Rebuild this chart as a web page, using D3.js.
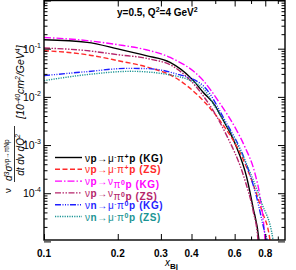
<!DOCTYPE html>
<html>
<head>
<meta charset="utf-8">
<script src="https://cdn.jsdelivr.net/npm/d3@7"></script>
<style>
  body { margin: 0; background: #fff; }
  text { font-family: "Liberation Sans", Arial, sans-serif; }
</style>
</head>
<body>
<div id="chart"></div>
<script>
//////////////////////////////////////////////////////////////////////////////
// data

const xKGpip = [0.1, 0.15, 0.2, 0.261, 0.327, 0.4, 0.446, 0.499, 0.523, 0.602, 0.672, 0.713, 0.754, 0.77];
const yKGpip = [0.153, 0.135, 0.099, 0.0716, 0.052, 0.0239, 0.0125, 0.0066, 0.0043, 0.00108, 2.13e-4, 5.1e-5, 1.06e-5, 3e-6];

const xZSpip = [0.1, 0.15, 0.2, 0.266, 0.339, 0.446, 0.523, 0.661, 0.774, 0.836, 0.85];
const yZSpip = [0.091, 0.075, 0.0565, 0.041, 0.026, 0.0084, 0.0032, 4.16e-4, 4.42e-5, 1.06e-5, 3e-6];

const xKGpi0 = [0.1, 0.15, 0.2, 0.261, 0.327, 0.447, 0.523, 0.612, 0.661, 0.726, 0.761, 0.798, 0.81];
const yKGpi0 = [0.171, 0.147, 0.121, 0.095, 0.066, 0.0217, 0.00726, 0.0020, 9.06e-4, 2.58e-4, 8.6e-5, 1.06e-5, 3e-6];

const xZSpi0 = [0.1, 0.15, 0.2, 0.266, 0.339, 0.446, 0.548, 0.661, 0.713, 0.747, 0.76];
const yZSpi0 = [0.103, 0.091, 0.075, 0.062, 0.042, 0.0106, 0.00185, 1.85e-4, 4.4e-5, 1.06e-5, 3e-6];

const xKGn = [0.1, 0.15, 0.218, 0.266, 0.339, 0.446, 0.548, 0.661, 0.738, 0.798, 0.813, 0.83];
const yKGn = [0.0276, 0.0334, 0.039, 0.0385, 0.031, 0.0171, 0.00323, 4.8e-4, 8.2e-5, 1.48e-5, 1.06e-5, 3e-6];

const xZSn = [0.1, 0.15, 0.2265, 0.339, 0.446, 0.499, 0.661, 0.774, 0.861, 0.88];
const yZSn = [0.0217, 0.029, 0.0339, 0.0276, 0.0149, 0.0062, 4.8e-4, 6.2e-5, 1.06e-5, 3e-6];

const xTickLabels = [0.1, 0.2, 0.3, 0.4, 0.6, 0.8];
const xTicks = [0.1, 0.2, 0.3, 0.4, 0.5, 0.6, 0.7, 0.8, 0.9];
const yTickExps = [-1, -2, -3, -4];

// legend: target, final lepton, pion charge, model
const legendTarget = ["p", "p", "p", "p", "n", "n"];
const legendFinal = ["μ", "μ", "ν", "ν", "μ", "μ"];
const legendFinalSup = ["-", "-", "", "", "-", "-"];
const legendPiSup = ["+", "+", "0", "0", "0", "0"];
const legendModel = ["KG", "ZS", "KG", "ZS", "KG", "ZS"];

//////////////////////////////////////////////////////////////////////////////
// styles

const width = 296;
const height = 270;
const mLeft = 44, mRight = 285, mTop = 0.5, mBottom = 240;

const colors = ["#000000", "#ff2a2a", "#ff00ff", "#b5246b", "#1e1eff", "#1a9494"];
const dashes = ["none", "5,2.5", "7,2,1.5,2", "6,1.5,1.5,1.5,1.5,1.5", "6,1.5,1,1.5,1,1.5,1,1.5", "1.2,1.2"];

const series = [
  d3.zip(xKGpip, yKGpip),
  d3.zip(xZSpip, yZSpip),
  d3.zip(xKGpi0, yKGpi0),
  d3.zip(xZSpi0, yZSpi0),
  d3.zip(xKGn, yKGn),
  d3.zip(xZSn, yZSn)
];

const x = d3.scaleLog().domain([0.1, 0.963]).range([mLeft, mRight]);
const y = d3.scaleLog().domain([1.07e-5, 1]).range([mBottom, mTop]);

const svg = d3.select("#chart").append("svg")
    .attr("width", width)
    .attr("height", height);

svg.append("defs").append("clipPath").attr("id", "clip")
  .append("rect")
    .attr("x", mLeft).attr("y", mTop)
    .attr("width", mRight - mLeft).attr("height", mBottom - mTop);

//////////////////////////////////////////////////////////////////////////////
// curves

const line = d3.line()
    .x(d => x(d[0]))
    .y(d => y(d[1]))
    .curve(d3.curveMonotoneX);

svg.append("g")
    .attr("clip-path", "url(#clip)")
  .selectAll("path")
  .data(series)
  .join("path")
    .attr("fill", "none")
    .attr("stroke", (d, i) => colors[i])
    .attr("stroke-width", 1.4)
    .attr("stroke-dasharray", (d, i) => dashes[i])
    .attr("d", line);

//////////////////////////////////////////////////////////////////////////////
// axes (ticks on all four sides, pointing in)

const yMinor = [];
for (let e = -5; e < 0; e++) {
  for (let k = 1; k < 10; k++) yMinor.push(k * Math.pow(10, e));
}
yMinor.push(1);

const isDecade = d => Math.abs(Math.log10(d) - Math.round(Math.log10(d))) < 1e-6;

const axes = svg.append("g");

axes.append("g").call(d3.axisRight(y).tickValues(yMinor).tickSizeInner(0).tickSizeOuter(0).tickFormat(""))
    .attr("transform", `translate(${mLeft},0)`)
    .call(g => g.select(".domain").remove())
    .call(g => g.selectAll(".tick line")
      .attr("x2", d => isDecade(d) ? 7 : 3.5)
      .attr("stroke-width", 1));

axes.append("g").call(d3.axisLeft(y).tickValues(yMinor).tickSizeInner(0).tickSizeOuter(0).tickFormat(""))
    .attr("transform", `translate(${mRight},0)`)
    .call(g => g.select(".domain").remove())
    .call(g => g.selectAll(".tick line")
      .attr("x2", d => isDecade(d) ? -7 : -3.5)
      .attr("stroke-width", 1));

axes.append("g").call(d3.axisTop(x).tickValues(xTicks).tickSizeInner(0).tickSizeOuter(0).tickFormat(""))
    .attr("transform", `translate(0,${mBottom})`)
    .call(g => g.select(".domain").remove())
    .call(g => g.selectAll(".tick line")
      .attr("y2", d => xTickLabels.includes(d) ? -6 : -3.5)
      .attr("stroke-width", 1));

axes.append("g").call(d3.axisBottom(x).tickValues(xTicks).tickSizeInner(0).tickSizeOuter(0).tickFormat(""))
    .attr("transform", `translate(0,${mTop})`)
    .call(g => g.select(".domain").remove())
    .call(g => g.selectAll(".tick line")
      .attr("y2", d => xTickLabels.includes(d) ? 6 : 3.5)
      .attr("stroke-width", 1));

svg.append("rect")
    .attr("x", mLeft).attr("y", mTop)
    .attr("width", mRight - mLeft).attr("height", mBottom - mTop)
    .attr("fill", "none")
    .attr("stroke", "#000")
    .attr("stroke-width", 1.4);

// x tick labels
svg.append("g")
    .style("font-size", "10px")
    .style("font-weight", "bold")
  .selectAll("text")
  .data(xTickLabels)
  .join("text")
    .attr("x", d => x(d))
    .attr("y", 257)
    .attr("text-anchor", "middle")
    .text(d => d);

// x axis title
const xt = svg.append("text")
    .attr("x", 165)
    .attr("y", 266)
    .style("font-size", "10px");
xt.append("tspan").style("font-style", "italic").text("x");
xt.append("tspan").attr("dy", 3).style("font-size", "8px").style("font-weight", "bold").text("Bj");

// y tick labels
const yl = svg.append("g").style("font-size", "10.5px")
  .selectAll("text")
  .data(yTickExps)
  .join("text")
    .attr("x", 23)
    .attr("y", d => y(Math.pow(10, d)) + 4);
yl.append("tspan").text("10");
yl.append("tspan").attr("dy", -5).style("font-size", "7px").text(d => d);

// y axis title (rotated pieces)
const yTitle = svg.append("g").style("font-style", "italic");

yTitle.append("text")
    .attr("transform", "translate(11,193) rotate(-90)")
    .style("font-size", "9.5px")
    .style("font-style", "normal")
    .text("ν");

const num = yTitle.append("text")
    .attr("transform", "translate(12,181) rotate(-90)")
    .style("font-size", "10px");
num.append("tspan").text("d");
num.append("tspan").attr("dy", -3.5).style("font-size", "7px").text("3");
num.append("tspan").attr("dy", 3.5).text("σ");
num.append("tspan").attr("dy", -3.5).style("font-size", "6.5px").style("font-style", "normal").text("νp→πNp");

yTitle.append("line")
    .attr("x1", 14.5).attr("x2", 14.5)
    .attr("y1", 126).attr("y2", 182)
    .attr("stroke", "#000")
    .attr("stroke-width", 0.8);

const den = yTitle.append("text")
    .attr("transform", "translate(23.5,155) rotate(-90)")
    .attr("text-anchor", "middle")
    .style("font-size", "10px");
den.append("tspan").text("dt dν dQ");
den.append("tspan").attr("dy", -3.5).style("font-size", "7px").text("2");

const unit = yTitle.append("text")
    .attr("transform", "translate(23.5,82) rotate(-90)")
    .attr("text-anchor", "middle")
    .style("font-size", "10.5px");
unit.append("tspan").text("[10");
unit.append("tspan").attr("dy", -3.5).style("font-size", "7px").text("-40");
unit.append("tspan").attr("dy", 3.5).text("cm");
unit.append("tspan").attr("dy", -3.5).style("font-size", "7px").text("2");
unit.append("tspan").attr("dy", 3.5).text("/GeV");
unit.append("tspan").attr("dy", -3.5).style("font-size", "7px").text("4");
unit.append("tspan").attr("dy", 3.5).text("]");

// title
const title = svg.append("text")
    .attr("x", 117)
    .attr("y", 16)
    .style("font-size", "10px")
    .style("font-weight", "bold");
title.append("tspan").text("y=0.5, Q");
title.append("tspan").attr("dy", -4).style("font-size", "7px").text("2");
title.append("tspan").attr("dy", 4).text("=4 GeV");
title.append("tspan").attr("dy", -4).style("font-size", "7px").text("2");

//////////////////////////////////////////////////////////////////////////////
// legend

const legend = svg.append("g")
  .selectAll("g")
  .data(legendModel)
  .join("g")
    .attr("transform", (d, i) => `translate(55,${157.5 + i * 11.8})`);

legend.append("line")
    .attr("x1", 0).attr("x2", 27)
    .attr("stroke", (d, i) => colors[i])
    .attr("stroke-width", 1.4)
    .attr("stroke-dasharray", (d, i) => dashes[i]);

const lt = legend.append("text")
    .attr("x", 30)
    .attr("y", 4)
    .attr("fill", (d, i) => colors[i])
    .style("font-size", "10px")
    .style("letter-spacing", "0.6px");
lt.append("tspan").text("ν");
lt.append("tspan").style("font-weight", "bold").text((d, i) => legendTarget[i]);
lt.append("tspan").text((d, i) => "→" + legendFinal[i]);
lt.append("tspan").attr("dy", -3).style("font-size", "6.5px").text((d, i) => legendFinalSup[i]);
lt.append("tspan").attr("dy", 3).text("π");
lt.append("tspan").attr("dy", -3).style("font-size", "7px").style("font-weight", "bold").text((d, i) => legendPiSup[i]);
lt.append("tspan").attr("dy", 3).style("font-weight", "bold").text((d, i) => "p (" + d + ")");
</script>
</body>
</html>
